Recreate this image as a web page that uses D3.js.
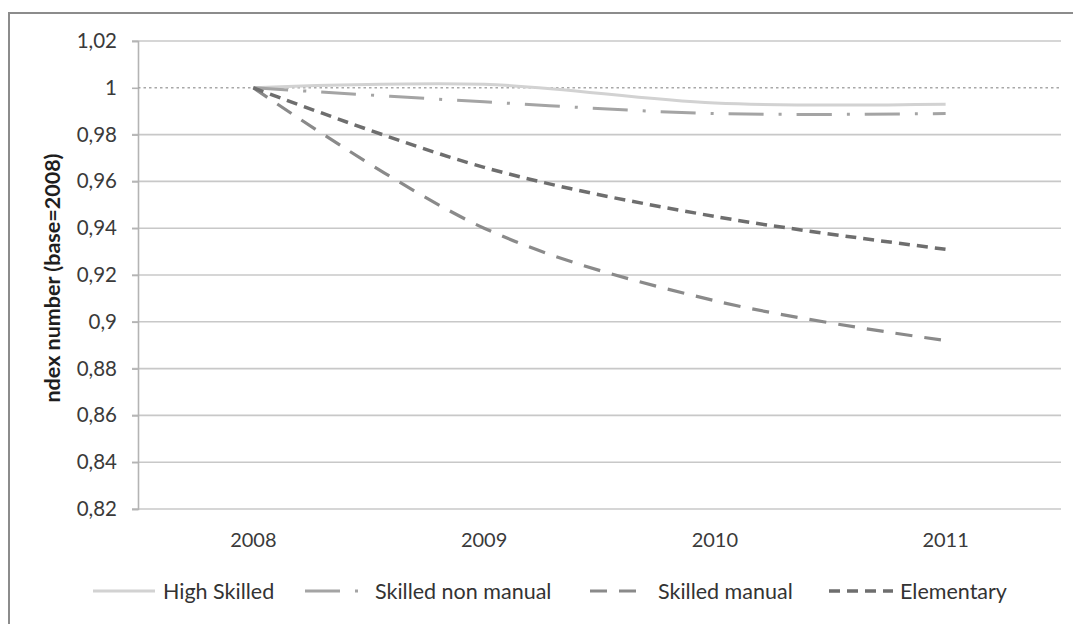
<!DOCTYPE html>
<html><head><meta charset="utf-8">
<script src="https://cdn.jsdelivr.net/npm/d3@7"></script>
<style>
html,body{margin:0;padding:0;background:#fff;}
svg{display:block;}
text{font-family:Lato,"Open Sans",sans-serif;}
</style></head>
<body>
<svg id="chart" width="1073" height="624"></svg>
<script>
const years = ["2008","2009","2010","2011"];
const highSkilled = [1, 1.0015, 0.9935, 0.993];
const skilledNonManual = [1, 0.994, 0.989, 0.989];
const skilledManual = [1, 0.940, 0.909, 0.892];
const elementary = [1, 0.966, 0.945, 0.931];
const yTicks = [0.82,0.84,0.86,0.88,0.9,0.92,0.94,0.96,0.98,1,1.02];
const seriesNames = ["High Skilled","Skilled non manual","Skilled manual","Elementary"];

const series = [
  {name: seriesNames[0], values: highSkilled, color:"#d2d2d2", width:3, dash:null},
  {name: seriesNames[1], values: skilledNonManual, color:"#a4a4a4", width:3, dash:"35,15,3,15"},
  {name: seriesNames[2], values: skilledManual, color:"#8a8a8a", width:3.2, dash:"17,12"},
  {name: seriesNames[3], values: elementary, color:"#6e6e6e", width:3.5, dash:"11,7"}
];

const svg = d3.select("#chart");
const pLeft = 138, pRight = 1061, pTop = 41, pBottom = 509;

// outer frame
svg.append("rect").attr("x",9).attr("y",13).attr("width",1100).attr("height",700)
  .attr("fill","none").attr("stroke","#8c8c8c").attr("stroke-width",2);

const x = d3.scaleBand().domain(years).range([pLeft,pRight]);
const y = d3.scaleLinear().domain([0.82,1.02]).range([pBottom,pTop]);
const fmt = v => String(+v.toFixed(2)).replace(".",",");

// gridlines (skip 1, drawn dotted)
svg.append("g").selectAll("line").data(yTicks.filter(t=>t!==1)).join("line")
  .attr("x1",pLeft-6).attr("x2",pRight).attr("y1",d=>y(d)).attr("y2",d=>y(d))
  .attr("stroke","#c8c8c8").attr("stroke-width",1.6);

// y axis
const yAxis = svg.append("g").attr("transform",`translate(${pLeft},0)`)
  .call(d3.axisLeft(y).tickValues(yTicks).tickFormat(fmt).tickSize(6).tickPadding(15));
yAxis.select(".domain").attr("stroke","#b4b4b4").attr("stroke-width",1.6);
yAxis.selectAll(".tick line").attr("stroke","#b4b4b4").attr("stroke-width",1.6);
yAxis.selectAll(".tick text").attr("fill","#3a3a3a").style("font-size","20.5px")
  .style("font-family","Lato,'Open Sans',sans-serif");

// x axis labels
const xAxis = svg.append("g").attr("transform",`translate(0,${pBottom})`)
  .call(d3.axisBottom(x).tickSize(0).tickPadding(24));
xAxis.select(".domain").remove();
xAxis.selectAll(".tick text").attr("fill","#3a3a3a").style("font-size","20px")
  .style("font-family","Lato,'Open Sans',sans-serif");

// dotted reference at 1
svg.append("line").attr("x1",pLeft).attr("x2",pRight).attr("y1",y(1)).attr("y2",y(1))
  .attr("stroke","#a8a8a8").attr("stroke-width",1.6).attr("stroke-dasharray","2.5,3");

// lines
const line = d3.line()
  .x((d,i)=>x(years[i]) + x.bandwidth()/2)
  .y(d=>y(d))
  .curve(d3.curveCatmullRom.alpha(0.5));

svg.append("g").selectAll("path").data(series).join("path")
  .attr("d",d=>line(d.values))
  .attr("fill","none")
  .attr("stroke",d=>d.color)
  .attr("stroke-width",d=>d.width)
  .attr("stroke-dasharray",d=>d.dash);

// y label
svg.append("text")
  .attr("transform",`translate(52,${(pTop+pBottom)/2 + 3}) rotate(-90)`)
  .attr("text-anchor","middle").attr("dy","0.35em")
  .attr("fill","#1e1e1e").style("font-size","21.5px").style("font-weight","bold")
  .text("ndex number (base=2008)");

// legend
const legendY = 591;
const legendItems = [
  {x1:93, x2:155, tx:163},
  {x1:305, x2:362, tx:375},
  {x1:590, x2:642, tx:658},
  {x1:829, x2:893, tx:900}
];
const leg = svg.append("g");
series.forEach((s,i)=>{
  const it = legendItems[i];
  leg.append("line").attr("x1",it.x1).attr("x2",it.x2).attr("y1",legendY).attr("y2",legendY)
    .attr("stroke",s.color).attr("stroke-width",s.width)
    .attr("stroke-dasharray", s.dash);
  leg.append("text").attr("x",it.tx).attr("y",legendY).attr("dy","0.35em")
    .attr("fill","#333").style("font-size","21.5px").text(s.name);
});
</script>
</body></html>
